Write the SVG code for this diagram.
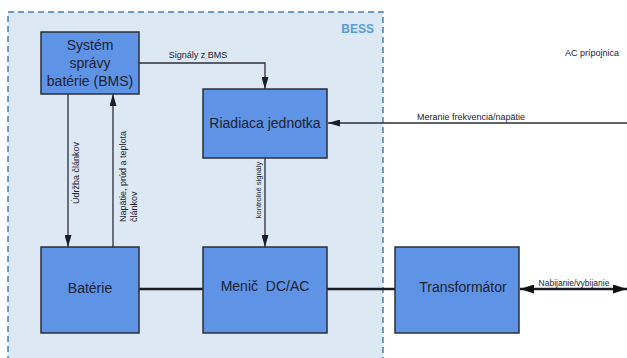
<svg xmlns="http://www.w3.org/2000/svg" width="627" height="358" viewBox="0 0 627 358">
<defs>
<style>
.box{fill:#5e93e6;stroke:#2a2f38;stroke-width:1.5}
.t{font-family:"Liberation Sans",Arial,sans-serif;fill:#1c2230}
.big{font-size:14px;text-anchor:middle}
.sm{font-size:9px}
.ln{stroke:#2a2f38;stroke-width:1.3;fill:none}
.thk{stroke:#1a1d24;stroke-width:2.6;fill:none}
</style>
<marker id="ah" viewBox="0 0 10 10" refX="10" refY="5" markerWidth="12" markerHeight="7" preserveAspectRatio="none" markerUnits="userSpaceOnUse" orient="auto-start-reverse"><path d="M0,0 L10,5 L0,10 z" fill="#1a1d24"/></marker>
<marker id="ah2" viewBox="0 0 10 10" refX="10" refY="5" markerWidth="14" markerHeight="9" preserveAspectRatio="none" markerUnits="userSpaceOnUse" orient="auto-start-reverse"><path d="M0,0 L10,5 L0,10 z" fill="#111"/></marker>
</defs>
<rect width="627" height="358" fill="#fff"/>
<g id="bess">
<rect x="8" y="12" width="375" height="360" fill="#dde8f5" stroke="#4a7db0" stroke-width="1.5" stroke-dasharray="6,4"/>
<text x="374" y="33" font-family="Liberation Sans,Arial,sans-serif" font-weight="bold" font-size="12" fill="#5b9bd5" text-anchor="end">BESS</text>
</g>
<g id="connectors">
<polyline class="ln" points="139,63 265,63 265,89" marker-end="url(#ah)"/>
<text class="t sm" x="198" y="58" text-anchor="middle">Signály z BMS</text>
<line class="ln" x1="627" y1="123" x2="328" y2="123" marker-end="url(#ah)" stroke-width="1.8"/>
<text class="t sm" x="417" y="120">Meranie frekvencia/napätie</text>
<line class="ln" x1="68" y1="94" x2="68" y2="247" marker-end="url(#ah)"/>
<text class="t sm" transform="translate(79,173) rotate(-90)" text-anchor="middle">Údržba článkov</text>
<line class="ln" x1="113" y1="247" x2="113" y2="94" marker-end="url(#ah)"/>
<text class="t sm" transform="translate(126,222) rotate(-90)">Napätie, prúd a teplota</text>
<text class="t sm" transform="translate(137,222) rotate(-90)">článkov</text>
<line class="ln" x1="265" y1="158" x2="265" y2="247" marker-end="url(#ah)"/>
<text class="t" font-size="7.5" transform="translate(261,190) rotate(-90)" text-anchor="middle">kontrolné signály</text>
<line class="thk" x1="139" y1="289" x2="203" y2="289"/>
<line class="thk" x1="327" y1="289" x2="395" y2="289"/>
<line class="thk" x1="520" y1="289" x2="627" y2="289" marker-start="url(#ah2)" marker-end="url(#ah2)"/>
<text class="t" font-size="8.5" x="574" y="286" text-anchor="middle">Nabijanie/vybijanie</text>
</g>
<g id="bms"><rect class="box" x="41" y="32" width="98" height="62"/>
<text class="t big" x="90" y="50">Systém</text>
<text class="t big" x="90" y="68">správy</text>
<text class="t big" x="90" y="86">batérie (BMS)</text></g>
<g id="riadiaca"><rect class="box" x="203" y="89" width="124" height="69"/>
<text class="t big" x="265" y="128">Riadiaca jednotka</text></g>
<g id="baterie"><rect class="box" x="41" y="247" width="98" height="86"/>
<text class="t big" x="90" y="293">Batérie</text></g>
<g id="menic"><rect class="box" x="203" y="247" width="124" height="86"/>
<text class="t big" x="265" y="291" xml:space="preserve">Menič  DC/AC</text></g>
<g id="transformator"><rect class="box" x="395" y="247" width="124" height="86"/>
<text class="t big" x="463" y="292">Transformátor</text></g>
<g id="ac"><text class="t sm" x="565" y="56">AC prípojnica</text></g>
</svg>
